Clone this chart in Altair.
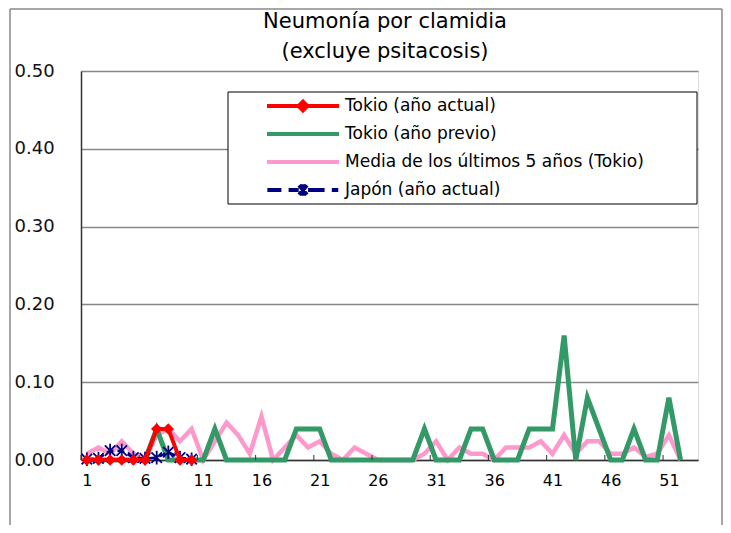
import altair as alt
import pandas as pd

# ---------------- data ----------------
weeks_all = list(range(1, 53))
weeks_cur = list(range(1, 11))

tokyo_cur = [0, 0, 0, 0, 0, 0, 0.04, 0.04, 0, 0]
japan_cur = [0.001, 0.002, 0.012, 0.012, 0.003, 0.002, 0.003, 0.010, 0.003, 0.001]
tokyo_prev = [0, 0, 0, 0, 0, 0, 0.04, 0, 0, 0,
              0, 0.04, 0, 0, 0, 0, 0, 0, 0.04, 0.04,
              0.04, 0, 0, 0, 0, 0, 0, 0, 0, 0.04,
              0, 0, 0, 0.04, 0.04, 0, 0, 0, 0.04, 0.04,
              0.04, 0.16, 0, 0.08, 0.04, 0, 0, 0.04, 0, 0,
              0.08, 0]
avg5 = [0.008, 0.016, 0.008, 0.024, 0.008, 0.0, 0.032, 0.04, 0.024, 0.04,
        0.0, 0.024, 0.048, 0.032, 0.008, 0.056, 0.0, 0.016, 0.032, 0.016,
        0.024, 0.008, 0.0, 0.016, 0.008, 0, 0, 0, 0, 0.008,
        0.024, 0.0, 0.016, 0.008, 0.008, 0, 0.016, 0.016, 0.016, 0.024,
        0.008, 0.032, 0.008, 0.024, 0.024, 0.008, 0.008, 0.016, 0.004, 0.008,
        0.032, 0]

series_names = ["Tokio (año actual)", "Tokio (año previo)",
                "Media de los últimos 5 años (Tokio)", "Japón (año actual)"]
series_colors = ["#FF0000", "#339966", "#FF99CC", "#000080"]
x_tick_labels = [1, 6, 11, 16, 21, 26, 31, 36, 41, 46, 51]
y_ticks = [0.0, 0.1, 0.2, 0.3, 0.4, 0.5]
title_lines = ["Neumonía por clamidia", "(excluye psitacosis)"]

FONT = "DejaVu Sans"

rows = []
for w, v in zip(weeks_cur, tokyo_cur):
    rows.append({"series": series_names[0], "week": w, "value": v})
for w, v in zip(weeks_all, tokyo_prev):
    rows.append({"series": series_names[1], "week": w, "value": v})
for w, v in zip(weeks_all, avg5):
    rows.append({"series": series_names[2], "week": w, "value": v})
for w, v in zip(weeks_cur, japan_cur):
    rows.append({"series": series_names[3], "week": w, "value": v})
df = pd.DataFrame(rows)
ticks_df = pd.DataFrame({"week": x_tick_labels})
title_df = pd.DataFrame({"line": [0, 1], "text": title_lines})

W, H = 617, 389

x_scale = alt.Scale(domain=[0.5, 53.5], nice=False, zero=False)
y_scale = alt.Scale(domain=[0, 0.5], nice=False)

x_axis = alt.Axis(values=x_tick_labels, format="d", labelFontSize=16, labelFont=FONT,
                  labelFontWeight="normal", labelColor="black", labelPadding=12,
                  tickSize=0, grid=False, domainColor="#333333", domainWidth=1.5,
                  title=None, labelFlush=False)
y_axis = alt.Axis(values=y_ticks, format=".2f", labelFontSize=18, labelFont=FONT,
                  labelFontWeight="normal", labelColor="#111111", labelAlign="left",
                  labelPadding=67, tickSize=0, grid=True, gridColor="#888888",
                  gridWidth=1.5, domainColor="#333333", domainWidth=1.5, title=None)

X = alt.X("week:Q", scale=x_scale, axis=x_axis)
Y = alt.Y("value:Q", scale=y_scale, axis=y_axis)

base = alt.Chart(df)

pink = base.transform_filter(alt.datum.series == series_names[2]).mark_line(
    color=series_colors[2], strokeWidth=4.5, strokeJoin="miter").encode(x=X, y=Y)
green = base.transform_filter(alt.datum.series == series_names[1]).mark_line(
    color=series_colors[1], strokeWidth=5, strokeJoin="miter").encode(x=X, y=Y)
blue_line = base.transform_filter(alt.datum.series == series_names[3]).mark_line(
    color=series_colors[3], strokeWidth=2.5, strokeDash=[7, 4]).encode(x=X, y=Y)
blue_pts = base.transform_filter(alt.datum.series == series_names[3]).mark_point(
    shape="M-1,-1L1,1M-1,1L1,-1M0,-1.3L0,1.3", filled=False, color=series_colors[3],
    strokeWidth=1.8, size=110, opacity=1).encode(x=X, y=Y)
red_line = base.transform_filter(alt.datum.series == series_names[0]).mark_line(
    color=series_colors[0], strokeWidth=4).encode(x=X, y=Y)
red_pts = base.transform_filter(alt.datum.series == series_names[0]).mark_point(
    shape="diamond", filled=True, color=series_colors[0], size=130, opacity=1).encode(x=X, y=Y)

# inner tick marks on the category axis (between categories)
tick_rules = alt.Chart(ticks_df).transform_calculate(pos="datum.week - 0.5").mark_rule(
    color="#333333", strokeWidth=1).encode(
    x=alt.X("pos:Q", scale=x_scale, axis=x_axis),
    y=alt.value(H), y2=alt.value(H - 5),
)

one = alt.Data(values=[{"k": 1}])
frame_l = alt.Chart(one).mark_rule(color="#888888", strokeWidth=1.5).encode(
    x=alt.value(-71), y=alt.value(-62), y2=alt.value(H + 66))
frame_t = alt.Chart(one).mark_rule(color="#888888", strokeWidth=1.5).encode(
    x=alt.value(-71), x2=alt.value(641), y=alt.value(-62))
frame_r = alt.Chart(one).mark_rule(color="#888888", strokeWidth=1.5).encode(
    x=alt.value(641), y=alt.value(-62), y2=alt.value(H + 66))

title_1 = alt.Chart(title_df).transform_filter(alt.datum.line == 0).mark_text(
    font=FONT, fontSize=21, color="black", align="center", baseline="middle").encode(
    text="text:N", x=alt.value(304), y=alt.value(-49))
title_2 = alt.Chart(title_df).transform_filter(alt.datum.line == 1).mark_text(
    font=FONT, fontSize=21, color="black", align="center", baseline="middle").encode(
    text="text:N", x=alt.value(304), y=alt.value(-19))

legend_box = alt.Chart(one).mark_rect(fill="white", stroke="black", strokeWidth=1).encode(
    x=alt.value(147), x2=alt.value(616), y=alt.value(21), y2=alt.value(133))

legend_paths = [
    "M-1,0L1,0M0,-0.12L0.12,0L0,0.12L-0.12,0Z",
    "M-1,0L1,0",
    "M-1,0L1,0",
    "M-0.99,0L-0.6,0M-0.4,0L-0.12,0M0.14,0L0.6,0M0.8,0L0.98,0"
    "M-0.11,-0.13L0.11,0.13M-0.11,0.13L0.11,-0.13M0,-0.16L0,0.16",
]
leg = alt.Legend(orient="none", legendX=147, legendY=21, padding=0, clipHeight=28,
                 symbolSize=5184, symbolStrokeWidth=4, symbolOffset=37, labelOffset=4,
                 labelFontSize=17, labelFont=FONT, labelColor="black", rowPadding=0,
                 labelLimit=500, title=None)
legend_layer = base.transform_filter("false").mark_point(filled=False, opacity=1).encode(
    x=X, y=Y,
    color=alt.Color("series:N", scale=alt.Scale(domain=series_names, range=series_colors),
                    legend=leg),
    shape=alt.Shape("series:N", scale=alt.Scale(domain=series_names, range=legend_paths),
                    legend=leg),
)

chart = alt.layer(
    frame_l, frame_t, frame_r, title_1, title_2,
    pink, green, tick_rules, blue_line, blue_pts, red_line, red_pts,
    legend_box, legend_layer,
).properties(
    width=W, height=H,
    autosize=alt.AutoSizeParams(type="none"),
    padding={"left": 73, "top": 63, "right": 25, "bottom": 65},
).configure_view(stroke="#888888", strokeWidth=1.5).configure(background="white")

chart.save("out.html", embed_options={"renderer": "svg", "actions": False})
